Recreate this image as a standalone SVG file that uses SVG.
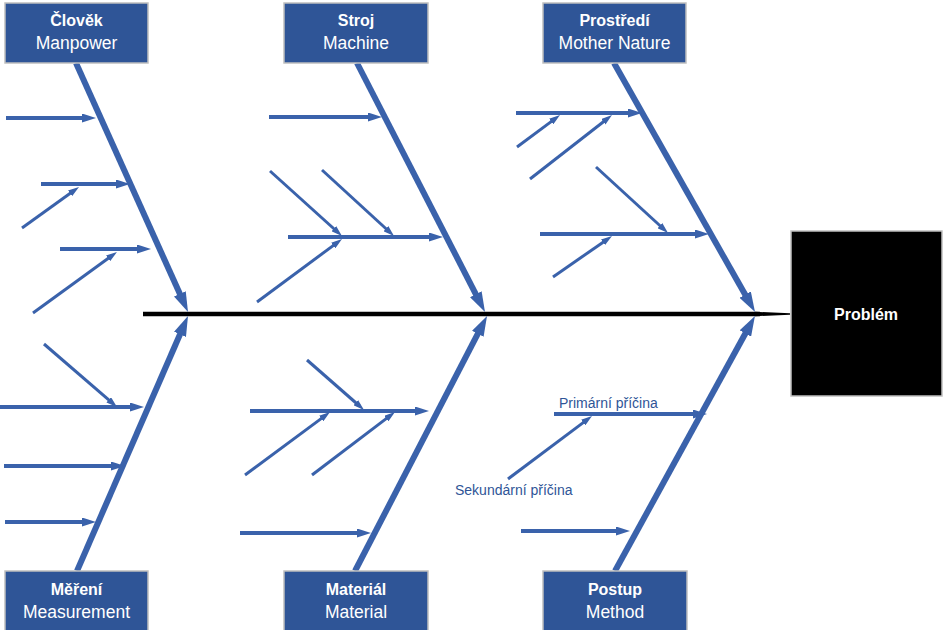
<svg xmlns="http://www.w3.org/2000/svg" width="947" height="630" viewBox="0 0 947 630">
<style>
.box{fill:#2F5597;stroke:#BFBFBF;stroke-width:1.5}
.t1{font-family:"Liberation Sans",Arial,sans-serif;font-weight:bold;font-size:16px;fill:#fff;text-anchor:middle}
.t2{font-family:"Liberation Sans",Arial,sans-serif;font-size:17.5px;fill:#fff;text-anchor:middle}
.lbl{font-family:"Liberation Sans",Arial,sans-serif;font-size:14px;fill:#2F5597}
.bone{stroke:#3A62AB;stroke-width:6;fill:none;marker-end:url(#mb)}
.pri{stroke:#3A62AB;stroke-width:4;fill:none;marker-end:url(#mp)}
.sec{stroke:#3A62AB;stroke-width:3;fill:none;marker-end:url(#ms)}
</style>
<defs>
<marker id="mb" markerUnits="userSpaceOnUse" markerWidth="20" markerHeight="13" refX="8" refY="6.5" orient="auto"><path d="M0,0 L20,6.5 L0,13 z" fill="#3A62AB"/></marker>
<marker id="mp" markerUnits="userSpaceOnUse" markerWidth="14" markerHeight="9" refX="6" refY="4.5" orient="auto"><path d="M0,0 L14,4.5 L0,9 z" fill="#3A62AB"/></marker>
<marker id="ms" markerUnits="userSpaceOnUse" markerWidth="11" markerHeight="7" refX="5" refY="3.5" orient="auto"><path d="M0,0 L11,3.5 L0,7 z" fill="#3A62AB"/></marker>
</defs>
<rect width="947" height="630" fill="#fff"/>
<g id="connectors">
<line x1="143" y1="314" x2="760" y2="314" stroke="#000" stroke-width="4.5"/>
<polygon points="755,311.8 790,313.2 790,314.8 755,316.2" fill="#000"/>
<line class="bone" x1="76" y1="63" x2="183.1" y2="301.1"/>
<line class="bone" x1="357" y1="63" x2="479.5" y2="301.3"/>
<line class="bone" x1="614" y1="63" x2="749.1" y2="301.6"/>
<line class="bone" x1="77" y1="571" x2="183.2" y2="327"/>
<line class="bone" x1="355" y1="571" x2="481.5" y2="326.7"/>
<line class="bone" x1="615" y1="571" x2="749.2" y2="326.5"/>
<line class="pri" x1="6" y1="118" x2="88" y2="118"/>
<line class="pri" x1="41" y1="184" x2="122" y2="184"/>
<line class="pri" x1="60" y1="249" x2="143" y2="249"/>
<line class="pri" x1="269" y1="117" x2="374" y2="117"/>
<line class="pri" x1="288" y1="237" x2="435" y2="237"/>
<line class="pri" x1="516" y1="113" x2="634" y2="113"/>
<line class="pri" x1="540" y1="234" x2="701" y2="234"/>
<line class="pri" x1="0" y1="407" x2="136" y2="407"/>
<line class="pri" x1="4" y1="466" x2="117" y2="466"/>
<line class="pri" x1="5" y1="522" x2="88" y2="522"/>
<line class="pri" x1="250" y1="411" x2="421" y2="411"/>
<line class="pri" x1="240" y1="533" x2="363" y2="533"/>
<line class="pri" x1="554" y1="414" x2="699" y2="414"/>
<line class="pri" x1="521" y1="531" x2="622" y2="531"/>
<line class="sec" x1="22" y1="228" x2="74.1" y2="190.5"/>
<line class="sec" x1="33" y1="313" x2="112.1" y2="255.5"/>
<line class="sec" x1="270" y1="171" x2="337.5" y2="232"/>
<line class="sec" x1="322" y1="170" x2="389.6" y2="232"/>
<line class="sec" x1="257" y1="302" x2="337.2" y2="242.6"/>
<line class="sec" x1="517" y1="147" x2="555.2" y2="118.6"/>
<line class="sec" x1="530" y1="179" x2="607.3" y2="118.7"/>
<line class="sec" x1="596" y1="167" x2="663.6" y2="229"/>
<line class="sec" x1="553" y1="277" x2="607.1" y2="239.4"/>
<line class="sec" x1="44" y1="344" x2="112.5" y2="403.1"/>
<line class="sec" x1="307" y1="360" x2="359.5" y2="406"/>
<line class="sec" x1="245" y1="475" x2="325.2" y2="415.6"/>
<line class="sec" x1="312" y1="475" x2="390.2" y2="415.6"/>
<line class="sec" x1="508" y1="479" x2="587.2" y2="419.6"/>
</g>
<g id="label-primary"><text class="lbl" x="559" y="408">Primární příčina</text></g>
<g id="label-secondary"><text class="lbl" x="455" y="495">Sekundární příčina</text></g>
<g id="clovek"><rect class="box" x="5" y="3" width="143" height="60"/><text class="t1" x="76.5" y="26">Člověk</text><text class="t2" x="76.5" y="49">Manpower</text></g>
<g id="stroj"><rect class="box" x="284" y="3" width="144" height="60"/><text class="t1" x="356" y="26">Stroj</text><text class="t2" x="356" y="49">Machine</text></g>
<g id="prostredi"><rect class="box" x="543" y="3" width="143" height="60"/><text class="t1" x="614.5" y="26">Prostředí</text><text class="t2" x="614.5" y="49">Mother Nature</text></g>
<g id="mereni"><rect class="box" x="5" y="571" width="143" height="62"/><text class="t1" x="76.5" y="595">Měření</text><text class="t2" x="76.5" y="618">Measurement</text></g>
<g id="material"><rect class="box" x="284" y="571" width="144" height="62"/><text class="t1" x="356" y="595">Materiál</text><text class="t2" x="356" y="618">Material</text></g>
<g id="postup"><rect class="box" x="543" y="571" width="144" height="62"/><text class="t1" x="615" y="595">Postup</text><text class="t2" x="615" y="618">Method</text></g>
<g id="problem"><rect x="791" y="231" width="151" height="165" fill="#000" stroke="#BFBFBF" stroke-width="1.5"/><text class="t1" x="866" y="320">Problém</text></g>
</svg>
